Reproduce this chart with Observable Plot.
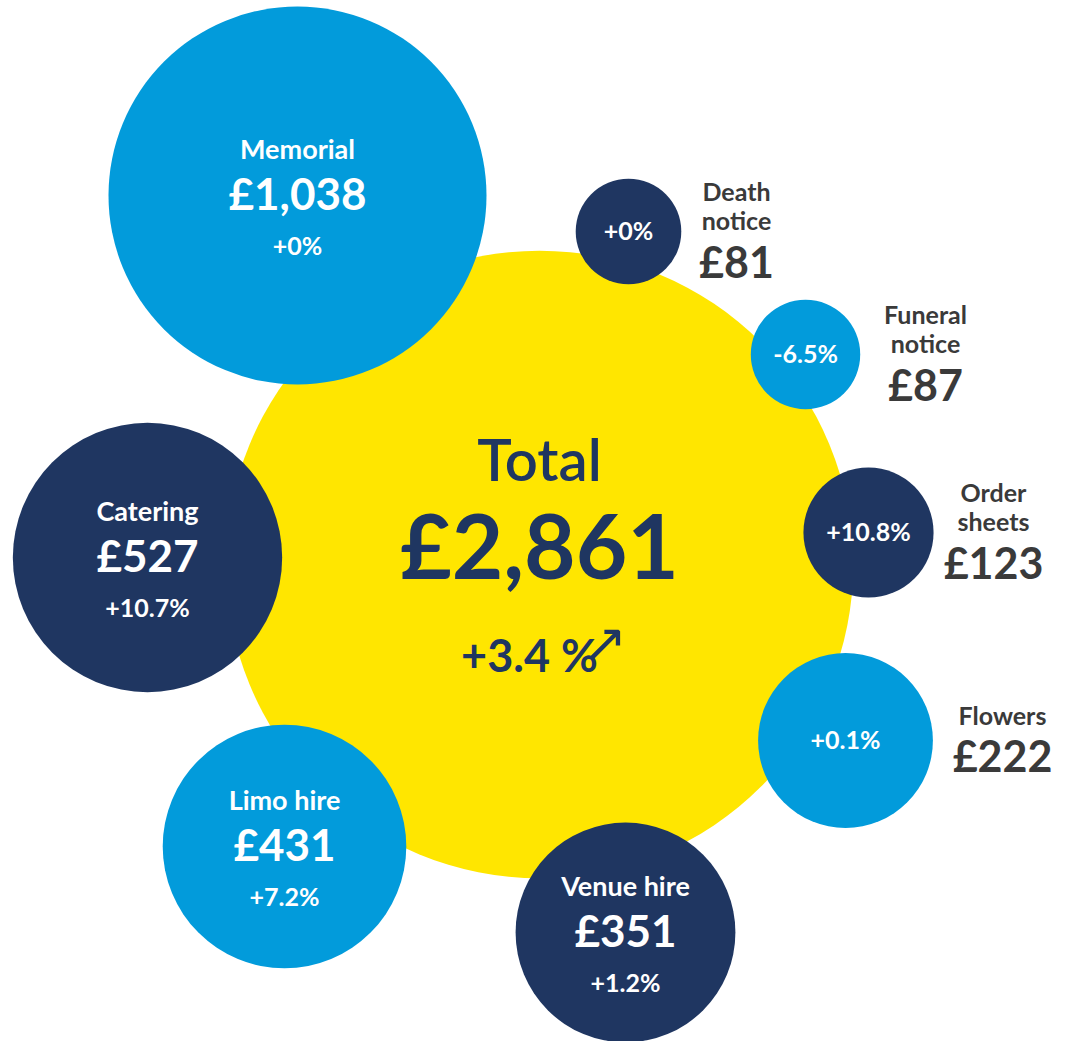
<!DOCTYPE html>
<html><head><meta charset="utf-8">
<script src="https://cdn.jsdelivr.net/npm/d3@7"></script>
<script src="https://cdn.jsdelivr.net/npm/@observablehq/plot@0.6"></script>
<style>
  html, body { margin: 0; padding: 0; background: #fff; }
  #chart svg { display: block; }
</style>
</head><body>
<div id="chart"></div>
<script>
// ---- data ----
const categories = ["Memorial", "Death notice", "Funeral notice", "Order sheets", "Flowers", "Venue hire", "Limo hire", "Catering"];
const costs      = [1038, 81, 87, 123, 222, 351, 431, 527];
const changes    = ["+0%", "+0%", "-6.5%", "+10.8%", "+0.1%", "+1.2%", "+7.2%", "+10.7%"];
const totalLabel  = "Total";
const totalCost   = 2861;
const totalChange = "+3.4";

// ---- layout (pixel-space positions of the bubble centres) ----
const posX   = [297, 628, 805, 868, 845, 625, 284, 147];
const posY   = [195, 231, 354, 532, 740, 932, 846, 557];
const labelX = [null, 736, 925, 993, 1002, null, null, null]; // outside labels for small bubbles
const tones  = ["blue", "navy", "blue", "navy", "blue", "navy", "blue", "navy"];
const totalPos = [539, 564];

// ---- styles ----
const BLUE = "#029BDB", NAVY = "#1F3661", YELLOW = "#FFE600", GREY = "#3A3A3A";
const FONT = "Lato, 'Open Sans', 'Noto Sans', sans-serif";
const W = 1072, H = 1041;
const money = v => "£" + d3.format(",")(v);

const items = categories.map((c, i) => ({
  category: c, cost: costs[i], change: changes[i],
  x: posX[i], y: posY[i], lx: labelX[i],
  fill: tones[i] === "blue" ? BLUE : NAVY,
  inside: labelX[i] == null
}));
const inside = items.filter(d => d.inside);
const outside = items.filter(d => !d.inside);

// outside label lines: block vertically centred on the bubble
const LINE = 29, GAP = 42;
const outLines = [], outValues = [];
for (const d of outside) {
  const lines = d.category.split(" ");
  const span = (lines.length - 1) * LINE + GAP;
  const start = d.y - span / 2 - 3;
  lines.forEach((t, k) => outLines.push({x: d.lx, y: start + k * LINE, text: t}));
  outValues.push({x: d.lx, y: start + (lines.length - 1) * LINE + GAP, text: money(d.cost)});
}

const total = [{x: totalPos[0], y: totalPos[1], cost: totalCost}];

const chart = Plot.plot({
  width: W, height: H,
  margin: 0,
  style: {fontFamily: FONT, background: "#fff"},
  x: {domain: [0, W], range: [0, W], axis: null},
  y: {domain: [0, H], range: [0, H], axis: null},
  r: {type: "sqrt", domain: [0, 1038], range: [0, 189]},
  marks: [
    Plot.dot(total, {x: "x", y: "y", r: "cost", fill: YELLOW, stroke: "none"}),
    Plot.dot(items, {x: "x", y: "y", r: "cost", fill: "fill", stroke: "none"}),
    // total text
    Plot.text(total, {x: "x", y: "y", text: () => totalLabel, dy: -102, fontSize: 58, fontWeight: 600, fill: NAVY}),
    Plot.text(total, {x: "x", y: "y", text: d => money(d.cost), dy: -14, fontSize: 89, fontWeight: 700, fill: NAVY}),
    Plot.text(total, {x: "x", y: "y", text: () => totalChange + " %", dx: -10, dy: 93, fontSize: 45, fontWeight: 700, fill: NAVY}),
    Plot.text(total, {x: "x", y: "y", text: () => "↗", dx: 66, dy: 79, fontSize: 52, fontWeight: 400, fill: NAVY, fontFamily: "DejaVu Sans"}),
    // inside labels (large bubbles)
    Plot.text(inside, {x: "x", y: "y", text: "category", dy: -45, fontSize: 27, fontWeight: 700, fill: "#fff"}),
    Plot.text(inside, {x: "x", y: "y", text: d => money(d.cost), dy: 0, fontSize: 44, fontWeight: 700, fill: "#fff"}),
    Plot.text(inside, {x: "x", y: "y", text: "change", dy: 51, fontSize: 25, fontWeight: 700, fill: "#fff"}),
    // small bubbles: change inside, label outside
    Plot.text(outside, {x: "x", y: "y", text: "change", fontSize: 25, fontWeight: 700, fill: "#fff"}),
    Plot.text(outLines, {x: "x", y: "y", text: "text", fontSize: 25, fontWeight: 700, fill: GREY}),
    Plot.text(outValues, {x: "x", y: "y", text: "text", fontSize: 43, fontWeight: 700, fill: GREY})
  ]
});
document.getElementById("chart").appendChild(chart);
</script>
</body></html>
